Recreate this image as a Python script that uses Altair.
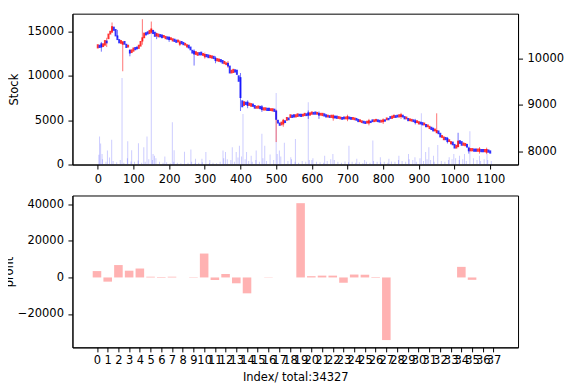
import altair as alt
import pandas as pd

# ---------------- data ----------------
cdl_idx = list(range(0, 1101, 5))
cdl_open = [
    10220, 10300, 10330, 10250, 10280, 10390, 10420, 10520, 10560, 10690,
    10640, 10500, 10420, 10320, 10300, 10380, 10320, 10240, 10190, 10120,
    10150, 10250, 10260, 10210, 10260, 10370, 10440, 10570, 10590, 10530,
    10560, 10620, 10580, 10480, 10460, 10530, 10520, 10450, 10420, 10480,
    10470, 10400, 10370, 10430, 10410, 10350, 10300, 10380, 10360, 10280,
    10240, 10300, 10260, 10190, 10170, 10080, 10060, 10140, 10150, 10060,
    10030, 10100, 10090, 10010, 10000, 10060, 10020, 9940, 9930, 9990,
    9970, 9880, 9860, 9910, 9850, 9680, 9690, 9770, 9760, 9640,
    9600, 9100, 8980, 9070, 9070, 8980, 8960, 9030, 9000, 8920,
    8920, 8980, 8970, 8880, 8880, 8940, 8940, 8870, 8860, 8920,
    8880, 8680, 8620, 8560, 8580, 8670, 8660, 8730, 8720, 8790,
    8800, 8730, 8740, 8810, 8810, 8750, 8760, 8820, 8840, 8770,
    8790, 8850, 8860, 8790, 8830, 8770, 8760, 8820, 8800, 8730,
    8780, 8720, 8710, 8770, 8770, 8700, 8690, 8740, 8750, 8690,
    8690, 8750, 8740, 8680, 8670, 8720, 8700, 8630, 8610, 8660,
    8650, 8600, 8600, 8660, 8690, 8630, 8640, 8690, 8680, 8620,
    8630, 8690, 8670, 8720, 8760, 8700, 8720, 8780, 8790, 8730,
    8740, 8790, 8760, 8690, 8720, 8650, 8640, 8690, 8670, 8610,
    8580, 8640, 8630, 8560, 8590, 8520, 8480, 8530, 8510, 8430,
    8390, 8450, 8400, 8290, 8240, 8310, 8290, 8200, 8150, 8210,
    8160, 8060, 8090, 8240, 8220, 8120, 8110, 8160, 8080, 8000,
    8000, 8060, 8060, 7990, 7990, 8050, 8050, 7980, 7970, 8040,
    8020]
cdl_close = [
    10310, 10230, 10240, 10330, 10400, 10330, 10540, 10600, 10700, 10600,
    10480, 10400, 10330, 10400, 10370, 10300, 10230, 10300, 10110, 10200,
    10240, 10180, 10200, 10300, 10380, 10460, 10560, 10500, 10520, 10620,
    10650, 10530, 10470, 10550, 10540, 10460, 10440, 10510, 10490, 10410,
    10400, 10460, 10440, 10360, 10340, 10410, 10370, 10310, 10290, 10340,
    10310, 10220, 10180, 10110, 10090, 10160, 10140, 10070, 10070, 10120,
    10100, 10030, 10010, 10080, 10070, 9990, 9950, 10010, 10000, 9920,
    9890, 9950, 9920, 9830, 9680, 9760, 9780, 9700, 9650, 9500,
    9150, 8950, 9080, 9000, 8980, 9050, 9040, 8960, 8920, 8980,
    8990, 8910, 8890, 8950, 8950, 8870, 8870, 8930, 8930, 8850,
    8680, 8600, 8550, 8640, 8680, 8610, 8740, 8670, 8800, 8720,
    8730, 8800, 8820, 8750, 8740, 8810, 8830, 8760, 8770, 8840,
    8860, 8790, 8790, 8850, 8770, 8830, 8830, 8750, 8730, 8790,
    8720, 8790, 8780, 8710, 8700, 8760, 8750, 8680, 8690, 8750,
    8760, 8690, 8680, 8740, 8730, 8660, 8630, 8690, 8670, 8600,
    8590, 8660, 8670, 8610, 8630, 8690, 8700, 8630, 8620, 8680,
    8690, 8640, 8730, 8670, 8700, 8770, 8790, 8720, 8730, 8800,
    8800, 8730, 8690, 8750, 8650, 8710, 8700, 8630, 8610, 8670,
    8650, 8580, 8560, 8620, 8520, 8580, 8550, 8460, 8430, 8490,
    8460, 8370, 8300, 8350, 8320, 8240, 8200, 8260, 8220, 8130,
    8060, 8140, 8230, 8160, 8120, 8190, 8180, 8080, 8000, 8070,
    8070, 7990, 7990, 8060, 8060, 7980, 7980, 8050, 8050, 7970,
    7950]

wick_idx = [10, 25, 40, 55, 70, 90, 125, 150, 165, 200, 230, 270, 300, 330, 365, 400,
            420, 460, 500, 520, 590, 620, 660, 700, 760, 800, 850, 890, 950, 980, 1010,
            1040, 1070, 1090]
wick_low = [10150, 10250, 10600, 10450, 9727, 10050, 10300, 10540, 10420, 10360, 10270,
            9850, 10000, 9900, 9800, 8870, 8930, 8850, 8200, 8530, 8700, 8700, 8660, 8650,
            8560, 8590, 8700, 8580, 8400, 8170, 8090, 7950, 7950, 7940]
wick_high = [10360, 10450, 10780, 10620, 10380, 10200, 10850, 10800, 10560, 10480, 10400,
             10200, 10130, 10050, 9950, 9690, 9100, 9000, 8900, 8700, 8880, 8860, 8800,
             8790, 8700, 8710, 8830, 8700, 8820, 8310, 8400, 8100, 8090, 8080]
wick_dir = ["down", "up", "up", "down", "up", "down", "up", "up", "down", "down", "up",
            "down", "up", "down", "up", "down", "down", "down", "up", "up", "down", "down",
            "up", "up", "up", "up", "up", "down", "up", "down", "down", "down", "up", "up"]

base_vol_idx = list(range(3, 1104, 10))
base_vol = [1100, 600, 300, 800, 400, 250, 500, 200, 700, 350, 300,
            450, 200, 300, 600, 500, 700, 300, 200, 250, 150,
            300, 200, 150, 250, 200, 300, 150, 200, 250, 200,
            150, 200, 150, 300, 700, 600, 500, 300, 800, 900,
            600, 400, 300, 500, 300, 700, 400, 300, 500, 1200,
            900, 500, 400, 600, 300, 200, 400, 300, 500, 700,
            300, 250, 200, 400, 600, 500, 300, 200, 350, 250,
            300, 200, 250, 150, 300, 200, 400, 300, 250, 300,
            200, 350, 300, 500, 400, 300, 600, 500, 300, 700,
            400, 600, 500, 300, 800, 400, 300, 500, 600, 700,
            500, 600, 400, 300, 700, 500, 400, 600, 500, 400]
spike_idx = [5, 8, 12, 27, 39, 68, 84, 95, 114, 129, 138, 150, 155, 159, 188, 209, 214,
             243, 261, 274, 292, 303, 314, 351, 358, 377, 388, 397, 407, 417, 430, 444,
             460, 468, 483, 500, 509, 523, 541, 554, 590, 600, 636, 659, 704, 726, 748,
             771, 792, 816, 844, 871, 889, 907, 919, 928, 941, 953, 985, 998, 1014,
             1028, 1043, 1070, 1091]
spike_vol = [3150, 2360, 1200, 1580, 2780, 9750, 2630, 1600, 2400, 1950, 3150, 14900, 1200,
             1000, 900, 4770, 1600, 1200, 1700, 640, 640, 1200, 500, 1580, 1400, 1950, 1400,
             2130, 5700, 1400, 1000, 1580, 3460, 2130, 830, 8050, 1580, 1950, 830, 2890,
             7030, 500, 1000, 1200, 2130, 640, 500, 2700, 830, 640, 1000, 1200, 830, 5780,
             1400, 1950, 1000, 1400, 830, 1200, 1000, 1200, 3460, 1000, 1200]

bar_idx = list(range(38))
profit = [3500, -2300, 6800, 3700, 4900, 400, -300, 400, 0, -200,
          13100, -1400, 1900, -3200, -8700, 0, -150, 0, 0, 40700,
          700, 1000, 1000, -2900, 1600, 1500, -300, -34300, 0, 0,
          0, 0, 0, 0, 5800, -1300, 0, 0]

x_ticks_top = list(range(0, 1101, 100))
stock_ticks = [0, 5000, 10000, 15000]
price_ticks = [8000, 9000, 10000]
profit_ticks = [-20000, 0, 20000, 40000]

FONT = "DejaVu Sans"

# ---------------- tables ----------------
candles = pd.DataFrame({"idx": cdl_idx, "open": cdl_open, "close": cdl_close})
candles["dir"] = ["up" if c >= o else "down" for o, c in zip(cdl_open, cdl_close)]
wicks = pd.DataFrame({"idx": wick_idx, "low": wick_low, "high": wick_high, "dir": wick_dir})
vols = pd.DataFrame({"idx": base_vol_idx + spike_idx, "vol": base_vol + spike_vol})
bars = pd.DataFrame({"i": bar_idx, "profit": profit})

xs = alt.Scale(domain=[-57, 1164], nice=False, zero=False)
x_top = alt.X("idx:Q", scale=xs,
              axis=alt.Axis(values=x_ticks_top, title=None, format="d", labelFlush=False))
price_scale = alt.Scale(domain=[7715, 10970], nice=False, zero=False)
col = alt.Color("dir:N", scale=alt.Scale(domain=["up", "down"], range=["#ff0000", "#0000ff"]),
                legend=None)

vol_layer = alt.Chart(vols).mark_bar(size=1, color="#0000ff", opacity=0.2).encode(
    x=x_top,
    y=alt.Y("vol:Q", scale=alt.Scale(domain=[0, 17000], nice=False),
            axis=alt.Axis(values=stock_ticks, title="Stock", format="d", titlePadding=7)),
)

wick_layer = alt.Chart(wicks).mark_rule(strokeWidth=1, opacity=0.55).encode(
    x=x_top,
    y=alt.Y("low:Q", scale=price_scale, axis=None),
    y2="high:Q",
    color=col,
)

body_layer = alt.Chart(candles).mark_rule(strokeWidth=2, opacity=0.8).encode(
    x=x_top,
    y=alt.Y("open:Q", scale=price_scale,
            axis=alt.Axis(values=price_ticks, orient="right", title=None, format="d")),
    y2="close:Q",
    color=col,
)

top = alt.layer(vol_layer, wick_layer, body_layer).resolve_scale(y="independent").properties(
    width=446, height=151)

bottom = alt.Chart(bars).transform_calculate(
    x0="datum.i - 0.4", x1="datum.i + 0.4"
).mark_rect(color="#ff0000", opacity=0.3).encode(
    x=alt.X("x0:Q", scale=alt.Scale(domain=[-2.29, 39.29], nice=False, zero=False),
            axis=alt.Axis(values=bar_idx, labelOverlap=False, labelFlush=False, format="d",
                          title="Index/ total:34327", labelPadding=3, titlePadding=5)),
    x2="x1:Q",
    y=alt.Y("profit:Q", scale=alt.Scale(domain=[-38300, 44900], nice=False),
            axis=alt.Axis(values=profit_ticks, title="profit", format="d", titlePadding=3)),
    y2=alt.datum(0),
).properties(width=446, height=152)

chart = alt.vconcat(top, bottom, spacing=9).properties(
    padding={"left": -5.5, "top": 4.5, "right": 0, "bottom": 0},
    background="white",
).configure_axis(
    labelFont=FONT, titleFont=FONT, labelFontSize=11.5, titleFontSize=11.5,
    labelColor="black", titleColor="black", tickColor="black", domainColor="black",
    grid=False, tickSize=4.5, labelPadding=4.5, titleFontWeight="normal",
).configure_view(stroke="black", strokeWidth=1)

chart.save("out.html", embed_options={"renderer": "svg", "actions": False})
